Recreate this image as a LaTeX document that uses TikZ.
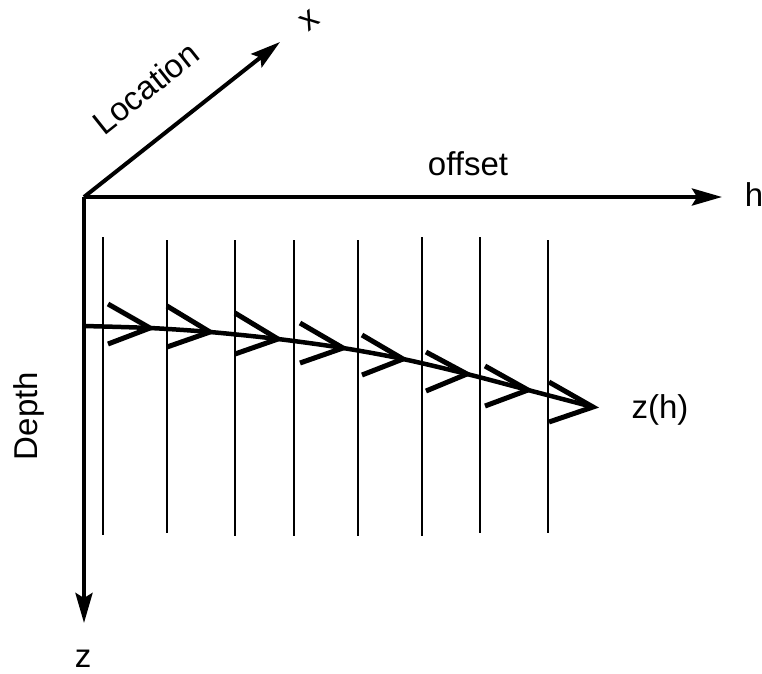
\documentclass[tikz,border=0pt]{standalone}
\usepackage{fontspec}
\setmainfont{Liberation Sans}
\usetikzlibrary{arrows.meta}
\begin{document}
\begin{tikzpicture}[x=1pt,y=-1pt,
  axis/.style={line width=4pt,-{Stealth[length=30pt,width=17pt,inset=5pt]}},
  trace/.style={line width=2pt},
  chev/.style={line width=5pt,line join=miter},
  lbl/.style={inner sep=0pt,font=\fontsize{33}{39}\selectfont}]
\useasboundingbox (0,0) rectangle (762,673);
% axes
\coordinate (o) at (84,197);
\coordinate (hend) at (722,197);
\coordinate (zend) at (84,623);
\coordinate (xend) at (280,42);
\draw[axis] (o) -- (hend);
\draw[axis] (o) -- (zend);
\draw[axis] (o) -- (xend);
% labels
\node[lbl,anchor=base] (loff) at (468,175) {offset};
\node[lbl,anchor=base] (lh) at (754,206) {h};
\node[lbl,anchor=base] (lz) at (83,667) {z};
\node[lbl,anchor=base] (lzh) at (660,418) {z(h)};
\node[lbl,anchor=base,rotate=90] (ldepth) at (37,416) {Depth};
\node[lbl,rotate=38.5] (lloc) at (145.5,88) {Location};
\node[lbl,rotate=38.5] (lx) at (310,21) {x};
% traces
\draw[trace] (103,237) -- (103,535);
\draw[trace] (167,240) -- (167,533);
\draw[trace] (235,240) -- (235,536);
\draw[trace] (294,240) -- (294,536);
\draw[trace] (358,240) -- (358,536);
\draw[trace] (422,237) -- (422,536);
\draw[trace] (480,237) -- (480,533);
\draw[trace] (548,240) -- (548,533);
% curve z(h)
\draw[line width=4.5pt] plot[smooth,tension=0.5] coordinates
  {(84,326) (150,328) (210,332) (278,339) (343,348) (403,359) (467,374) (528,390) (593,407)};
% chevrons
\draw[chev] (108,304) -- (150,328) -- (108,344);
\draw[chev] (167,306) -- (210,332) -- (167,347);
\draw[chev] (235,313) -- (278,339) -- (235,354);
\draw[chev] (300,323) -- (343,348) -- (300,363);
\draw[chev] (362,335) -- (403,359) -- (362,375);
\draw[chev] (426,352) -- (467,374) -- (426,391);
\draw[chev] (485,366) -- (528,390) -- (485,406);
\draw[chev] (549,382) -- (593,407) -- (549,422);
\end{tikzpicture}
\end{document}
